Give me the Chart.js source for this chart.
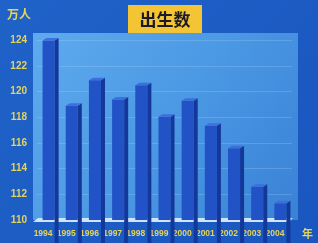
<!DOCTYPE html>
<html>
<head>
<meta charset="utf-8">
<script src="https://cdn.jsdelivr.net/npm/chart.js@4.4.1/dist/chart.umd.min.js"></script>
<style>
  html, body { margin: 0; padding: 0; background: #1b5cc4; }
  #wrap { position: relative; width: 318px; height: 243px; }
</style>
</head>
<body>
<div id="wrap"><canvas id="chart1" width="318" height="243"></canvas></div>
<script>
// data (births, 万人)
const years = ['1994', '1995', '1996', '1997', '1998', '1999', '2000', '2001', '2002', '2003', '2004'];
const births = [124.0, 118.9, 120.9, 119.4, 120.5, 118.05, 119.3, 117.35, 115.6, 112.6, 111.3];
const yMin = 110;
const yMax = 124.5;

const yellow = '#e6d35a';

// background, light panel and the floor strip
const panelPlugin = {
    id: 'panel',
    beforeDraw(chart) {
        const c = chart.ctx;
        const a = chart.chartArea;
        c.save();
        let g = c.createLinearGradient(0, 0, chart.width, chart.height);
        g.addColorStop(0, '#1f62c8');
        g.addColorStop(1, '#1a56bf');
        c.fillStyle = g;
        c.fillRect(0, 0, chart.width, chart.height);

        g = c.createLinearGradient(a.left, a.top, a.right, a.bottom);
        g.addColorStop(0, '#5eaaee');
        g.addColorStop(0.5, '#4b98e4');
        g.addColorStop(1, '#3a82d6');
        c.fillStyle = g;
        c.fillRect(a.left - 4, a.top - 1, a.right - a.left + 10, a.bottom - a.top + 1);
        c.restore();
    },
    beforeDatasetsDraw(chart) {
        const c = chart.ctx;
        const a = chart.chartArea;
        c.save();
        c.fillStyle = '#cfe4f8';
        c.beginPath();
        c.moveTo(a.left - 4, a.bottom + 2);
        c.lineTo(a.right - 4, a.bottom + 2);
        c.lineTo(a.right + 1, a.bottom - 2);
        c.lineTo(a.left + 1, a.bottom - 2);
        c.closePath();
        c.fill();
        c.restore();
    },
    afterDatasetsDraw(chart) {
        const c = chart.ctx;
        const d = 4, dy = 2.5;
        c.save();
        chart.getDatasetMeta(0).data.forEach(bar => {
            const l = bar.x - bar.width / 2;
            const r = bar.x + bar.width / 2;
            // side face
            c.fillStyle = '#14379a';
            c.beginPath();
            c.moveTo(r, bar.y);
            c.lineTo(r + d, bar.y - dy);
            c.lineTo(r + d, bar.base - dy);
            c.lineTo(r, bar.base);
            c.closePath();
            c.fill();
            // top face
            c.fillStyle = '#3d6fdc';
            c.beginPath();
            c.moveTo(l, bar.y);
            c.lineTo(l + d, bar.y - dy);
            c.lineTo(r + d, bar.y - dy);
            c.lineTo(r, bar.y);
            c.closePath();
            c.fill();
        });
        c.restore();
    },
    afterDraw(chart) {
        const c = chart.ctx;
        c.save();
        // title box
        c.fillStyle = '#f3c434';
        c.fillRect(128, 5, 74, 28);
        c.fillStyle = '#1a1a28';
        c.font = 'bold 17px "Noto Sans CJK SC"';
        c.textAlign = 'center';
        c.textBaseline = 'middle';
        c.fillText('出生数', 165, 20);
        // unit labels
        c.fillStyle = yellow;
        c.font = 'bold 12px "Noto Sans CJK SC"';
        c.textAlign = 'left';
        c.fillText('万人', 7, 14);
        c.font = 'bold 11px "Noto Sans CJK SC"';
        c.fillText('年', 302, 234);
        c.restore();
    }
};

const data = {
    labels: years,
    datasets: [{
        data: births,
        backgroundColor: '#2152c6',
        borderWidth: 0,
        barPercentage: 0.52,
        categoryPercentage: 1
    }]
};

const options = {
    responsive: false,
    animation: false,
    layout: { padding: { left: 0, right: 26, top: 34, bottom: 0 } },
    plugins: {
        legend: { display: false },
        tooltip: { enabled: false },
        title: { display: false }
    },
    scales: {
        x: {
            grid: { display: false, drawTicks: false },
            border: { display: false },
            ticks: {
                color: yellow,
                font: { family: 'Liberation Sans', size: 8.5, weight: 'bold' },
                padding: 9,
                labelOffset: -5.5,
                maxRotation: 0,
                autoSkip: false
            },
            afterFit(scale) { scale.height = 23; }
        },
        y: {
            min: yMin,
            max: yMax,
            grid: { color: 'rgba(190,225,255,0.22)', drawTicks: false },
            border: { display: false },
            ticks: {
                stepSize: 2,
                includeBounds: false,
                color: yellow,
                font: { family: 'Liberation Sans', size: 10, weight: 'bold' },
                padding: 10
            },
            afterFit(scale) { scale.width = 37; }
        }
    }
};

const ctx = document.getElementById('chart1').getContext('2d');
const myChart = new Chart(ctx, {
    type: 'bar',
    data: data,
    options: options,
    plugins: [panelPlugin]
});
</script>
</body>
</html>
